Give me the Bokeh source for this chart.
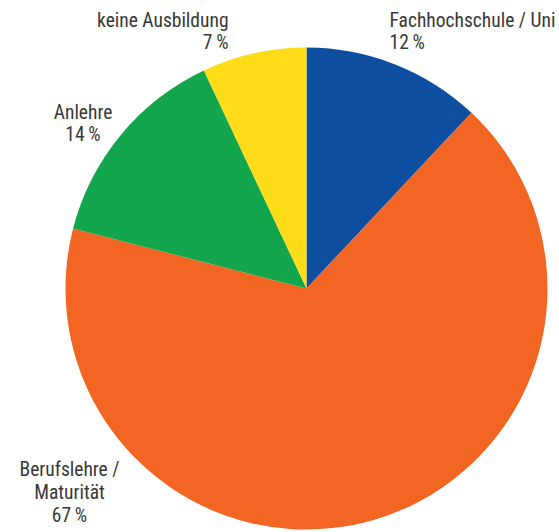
import math
from bokeh.plotting import figure
from bokeh.models import Range1d, ColumnDataSource
from bokeh.core.properties import value
from bokeh.embed import file_html
from bokeh.resources import INLINE

# Data (clockwise from 12 o'clock)
categories = ["Fachhochschule / Uni", "Berufslehre /\nMaturität", "Anlehre", "keine Ausbildung"]
percents = [12, 67, 14, 7]
colors = ["#0E4EA1", "#F26522", "#13A54B", "#FEDC17"]

# Layout (pixel space, y measured from top)
W, H = 559, 532
CX, CY, R = 306, 288, 241
BASE_FIX = -8
label_anchor = [(389, 27.5, "left"), (69, 477, "center"), (82.5, 119.5, "center"), (228, 27.5, "right")]
LINE_STEP = 22.8

p = figure(width=W, height=H, output_backend="svg", toolbar_location=None,
           x_range=Range1d(0, W), y_range=Range1d(0, H),
           x_axis_type=None, y_axis_type=None, min_border=0)
p.outline_line_color = None
p.xgrid.visible = False
p.ygrid.visible = False
p.background_fill_color = "white"

total = sum(percents)
starts, ends = [], []
acc = 0
for v in percents:
    a0 = math.pi / 2 - 2 * math.pi * acc / total
    acc += v
    a1 = math.pi / 2 - 2 * math.pi * acc / total
    starts.append(a1)
    ends.append(a0)

src = ColumnDataSource(dict(start=starts, end=ends, color=colors))
p.wedge(x=CX, y=H - CY, radius=R, start_angle="start", end_angle="end",
        fill_color="color", line_color=None, source=src)

tx, ty, tt, ta = [], [], [], []
for name, v, (ax, ay, al) in zip(categories, percents, label_anchor):
    lines = name.split("\n") + [f"{v}\u2009%"]
    for i, ln in enumerate(lines):
        tx.append(ax)
        ty.append(H - (ay + BASE_FIX + i * LINE_STEP))
        tt.append(ln)
        ta.append(al)

tsrc = ColumnDataSource(dict(x=tx, y=ty, text=tt, align=ta))
p.text(x="x", y="y", text="text", text_align="align", text_baseline="alphabetic",
       text_font=value("Roboto Condensed"), text_font_size="19.5px", text_color="#383838", source=tsrc)

open("out.html", "w").write(file_html(p, INLINE))
